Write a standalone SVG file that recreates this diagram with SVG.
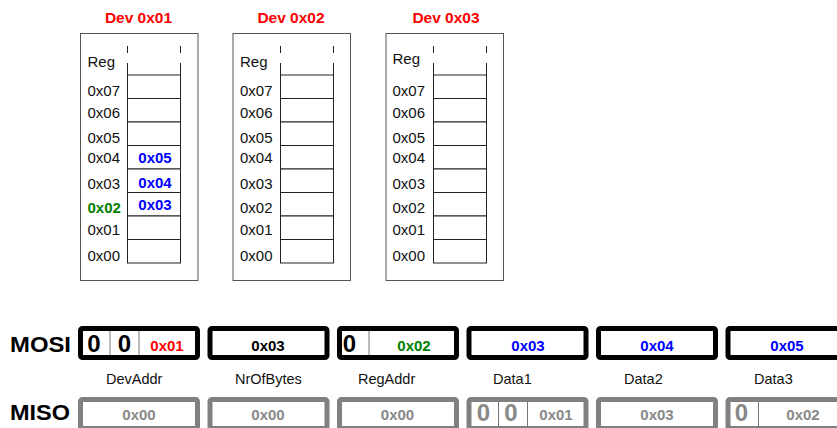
<svg xmlns="http://www.w3.org/2000/svg" width="837" height="428" viewBox="0 0 837 428">
<style>
  .dev{fill:#fff;stroke:#555;stroke-width:1}
  .cell{fill:#fff;stroke:#222;stroke-width:1}
  .dash{stroke:#222;stroke-width:1;stroke-dasharray:7 10 12 100}
  .title{font-family:"Liberation Sans",Arial,sans-serif;font-weight:bold;font-size:15.5px;fill:#f00;text-anchor:middle}
  .lbl{font-family:"Liberation Sans",Arial,sans-serif;font-size:15px;fill:#111}
  .val{font-family:"Liberation Sans",Arial,sans-serif;font-weight:bold;font-size:15px;text-anchor:middle}
  .blue{fill:#00f}
  .green{fill:#008000}
  .red{fill:#f00}
  .blk{fill:#000}
  .gry{fill:#888}
  .mosi{fill:#fff;stroke:#000;stroke-width:5}
  .miso{fill:#fff;stroke:#808080;stroke-width:5}
  .div{stroke:#777;stroke-width:1}
  .big{font-family:"Liberation Sans",Arial,sans-serif;font-weight:bold;font-size:24px;text-anchor:middle}
  .head{font-family:"Liberation Sans",Arial,sans-serif;font-weight:bold;font-size:22px;fill:#000}
  .cap{font-family:"Liberation Sans",Arial,sans-serif;font-size:14.5px;fill:#111}
</style>
<defs>
  <g id="regs">
    <line class="dash" x1="0" y1="46" x2="0" y2="75"/>
    <line class="dash" x1="53" y1="46" x2="53" y2="75"/>
    <rect class="cell" x="0" y="75" width="53" height="23.5"/>
    <rect class="cell" x="0" y="98.5" width="53" height="23.5"/>
    <rect class="cell" x="0" y="122" width="53" height="23.5"/>
    <rect class="cell" x="0" y="145.5" width="53" height="23.5"/>
    <rect class="cell" x="0" y="169" width="53" height="23.5"/>
    <rect class="cell" x="0" y="192.5" width="53" height="23.5"/>
    <rect class="cell" x="0" y="216" width="53" height="23.5"/>
    <rect class="cell" x="0" y="239.5" width="53" height="23.5"/>
  </g>
  <g id="labels">
    <text class="lbl" x="0" y="95.5">0x07</text>
    <text class="lbl" x="0" y="117.5">0x06</text>
    <text class="lbl" x="0" y="142.5">0x05</text>
    <text class="lbl" x="0" y="163">0x04</text>
    <text class="lbl" x="0" y="188.5">0x03</text>
    <text class="lbl" x="0" y="235">0x01</text>
    <text class="lbl" x="0" y="260.5">0x00</text>
  </g>
</defs>

<g id="dev1">
  <text class="title" x="138.5" y="23">Dev 0x01</text>
  <rect class="dev" x="80.5" y="33.5" width="117.5" height="247"/>
  <use href="#regs" x="127.5"/>
  <text class="lbl" x="87.5" y="66.5">Reg</text>
  <use href="#labels" x="87.5"/>
  <text class="val green" x="87.5" y="213" style="text-anchor:start">0x02</text>
  <text class="val blue" x="155" y="163">0x05</text>
  <text class="val blue" x="155" y="187.5">0x04</text>
  <text class="val blue" x="155" y="210">0x03</text>
</g>

<g id="dev2">
  <text class="title" x="291" y="23">Dev 0x02</text>
  <rect class="dev" x="233" y="33.5" width="117.5" height="247"/>
  <use href="#regs" x="280.5"/>
  <text class="lbl" x="240" y="66.5">Reg</text>
  <use href="#labels" x="240"/>
  <text class="lbl" x="240" y="213">0x02</text>
</g>

<g id="dev3">
  <text class="title" x="446" y="23">Dev 0x03</text>
  <rect class="dev" x="386" y="33.5" width="117.5" height="247"/>
  <use href="#regs" x="433.5"/>
  <text class="lbl" x="392.5" y="64">Reg</text>
  <use href="#labels" x="392.5"/>
  <text class="lbl" x="392.5" y="213">0x02</text>
</g>

<g id="mosi">
  <text class="head" x="10" y="352" textLength="61" lengthAdjust="spacingAndGlyphs">MOSI</text>
  <g id="mosi-devaddr">
    <rect class="mosi" x="80.5" y="328.5" width="117" height="29" rx="2"/>
    <line class="div" x1="110" y1="331" x2="110" y2="355"/>
    <line class="div" x1="139" y1="331" x2="139" y2="355"/>
    <text class="big blk" x="94" y="352">0</text>
    <text class="big blk" x="124.5" y="352">0</text>
    <text class="val red" x="167" y="350.5">0x01</text>
  </g>
  <g id="mosi-nrofbytes">
    <rect class="mosi" x="210" y="328.5" width="117" height="29" rx="2"/>
    <text class="val blk" x="268" y="350.5">0x03</text>
  </g>
  <g id="mosi-regaddr">
    <rect class="mosi" x="339.5" y="328.5" width="117" height="29" rx="2"/>
    <line class="div" x1="369" y1="331" x2="369" y2="355"/>
    <text class="big blk" x="349.5" y="352">0</text>
    <text class="val green" x="414" y="350.5">0x02</text>
  </g>
  <g id="mosi-data1">
    <rect class="mosi" x="469" y="328.5" width="117" height="29" rx="2"/>
    <text class="val blue" x="528" y="350.5">0x03</text>
  </g>
  <g id="mosi-data2">
    <rect class="mosi" x="598.5" y="328.5" width="117" height="29" rx="2"/>
    <text class="val blue" x="657" y="350.5">0x04</text>
  </g>
  <g id="mosi-data3">
    <rect class="mosi" x="728" y="328.5" width="117" height="29" rx="2"/>
    <text class="val blue" x="787" y="350.5">0x05</text>
  </g>
</g>

<g id="captions">
  <text class="cap" x="106" y="384">DevAddr</text>
  <text class="cap" x="235" y="384">NrOfBytes</text>
  <text class="cap" x="358" y="384">RegAddr</text>
  <text class="cap" x="493" y="384">Data1</text>
  <text class="cap" x="624" y="384">Data2</text>
  <text class="cap" x="754" y="384">Data3</text>
</g>

<g id="miso">
  <text class="head" x="10" y="420" textLength="60" lengthAdjust="spacingAndGlyphs">MISO</text>
  <g id="miso-1">
    <rect class="miso" x="80.5" y="399.5" width="117" height="29" rx="2"/>
    <text class="val gry" x="139" y="419.5">0x00</text>
  </g>
  <g id="miso-2">
    <rect class="miso" x="210" y="399.5" width="117" height="29" rx="2"/>
    <text class="val gry" x="268" y="419.5">0x00</text>
  </g>
  <g id="miso-3">
    <rect class="miso" x="339.5" y="399.5" width="117" height="29" rx="2"/>
    <text class="val gry" x="397.5" y="419.5">0x00</text>
  </g>
  <g id="miso-4">
    <rect class="miso" x="469" y="399.5" width="117" height="29" rx="2"/>
    <line class="div" x1="498.5" y1="402" x2="498.5" y2="428"/>
    <line class="div" x1="527.5" y1="402" x2="527.5" y2="428"/>
    <text class="big gry" x="483.5" y="421">0</text>
    <text class="big gry" x="511" y="421">0</text>
    <text class="val gry" x="556" y="419.5">0x01</text>
  </g>
  <g id="miso-5">
    <rect class="miso" x="598.5" y="399.5" width="117" height="29" rx="2"/>
    <text class="val gry" x="657" y="419.5">0x03</text>
  </g>
  <g id="miso-6">
    <rect class="miso" x="728" y="399.5" width="117" height="29" rx="2"/>
    <line class="div" x1="758.5" y1="402" x2="758.5" y2="428"/>
    <text class="big gry" x="741.5" y="421">0</text>
    <text class="val gry" x="803" y="419.5">0x02</text>
  </g>
</g>
</svg>
